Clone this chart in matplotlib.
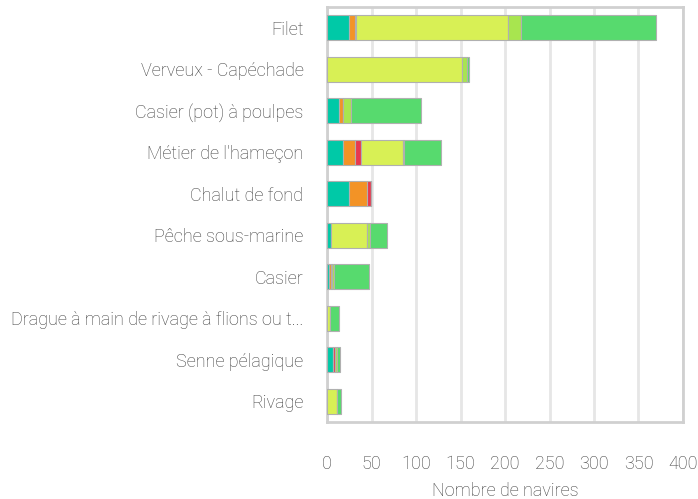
import matplotlib
matplotlib.use("Agg")
import matplotlib.pyplot as plt
import numpy as np

# Categories (top to bottom)
categories = [
    "Filet",
    "Verveux - Capéchade",
    "Casier (pot) à poulpes",
    "Métier de l'hameçon",
    "Chalut de fond",
    "Pêche sous-marine",
    "Casier",
    "Drague à main de rivage à flions ou t...",
    "Senne pélagique",
    "Rivage",
]

# Stacked segments (left to right)
seg_teal = [25, 0, 13.5, 18, 25, 4, 2, 0, 7, 0]
seg_orange = [6, 0, 4, 14, 20, 0, 2, 0, 0, 0]
seg_red = [2, 0, 0, 6, 4.5, 0, 0, 0, 2.5, 0]
seg_yellow = [170, 151.5, 0, 47, 0, 41, 1.5, 3, 0, 11.5]
seg_lightgreen = [15.5, 5.5, 9, 2, 0, 3, 2.5, 0, 1.5, 0]
seg_green = [151, 3, 79, 41, 0, 19.5, 39, 11, 4, 4]

series = [seg_teal, seg_orange, seg_red, seg_yellow, seg_lightgreen, seg_green]
colors = ["#00C9A7", "#F39326", "#E8384F", "#D8F055", "#A8E54F", "#57DA6E"]

x_ticks = [0, 50, 100, 150, 200, 250, 300, 350, 400]

plt.rcParams['font.family'] = ['Roboto', 'DejaVu Sans']
plt.rcParams['font.weight'] = 'light'
plt.rcParams['axes.labelweight'] = 'light'

text_color = "#3c3c3c"

fig = plt.figure(figsize=(6.98, 4.99), dpi=100)
ax = fig.add_axes([0.4685, 0.1543, 0.51, 0.832])

y = np.arange(len(categories))
left = np.zeros(len(categories))
for vals, col in zip(series, colors):
    vals = np.array(vals, dtype=float)
    ax.barh(y, vals, left=left, height=0.6, color=col,
            edgecolor="#b0b0b0", linewidth=0.8, zorder=3)
    left += vals

ax.set_ylim(len(categories) - 0.5, -0.5)
ax.set_xlim(0, 400)
ax.set_yticks(y)
ax.set_yticklabels(categories)
ax.set_xticks(x_ticks)

ax.grid(axis="x", color="#e6e6e6", linewidth=2, zorder=0)
for s in ax.spines.values():
    s.set_color("#d0d0d0")
    s.set_linewidth(2)

ax.tick_params(axis="both", length=0, colors=text_color, labelsize=13)
ax.tick_params(axis="x", pad=24)
ax.tick_params(axis="y", pad=17)
ax.set_xlabel("Nombre de navires", color=text_color, fontsize=13,
              fontweight="light", labelpad=6)

fig.savefig("out.png", dpi=100)
